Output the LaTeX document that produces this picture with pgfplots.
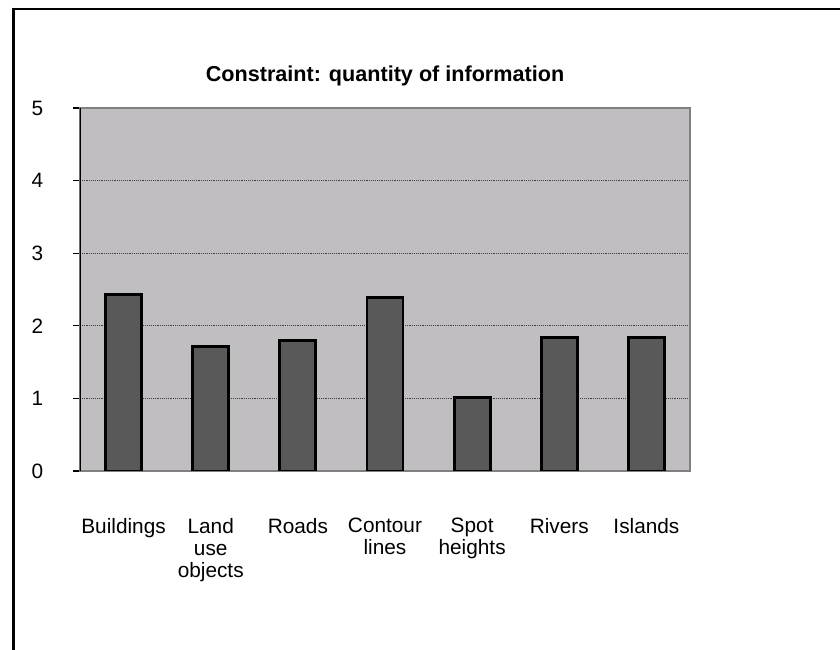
\documentclass[border=0pt]{standalone}
\usepackage{pgfplots}
\pgfplotsset{compat=1.18}
\usepackage{fontspec}
\setmainfont{Liberation Sans}
\definecolor{bg}{RGB}{192,190,192}
\definecolor{barc}{RGB}{89,89,89}
\begin{document}
\begin{tikzpicture}
\useasboundingbox (0,0) rectangle (630pt,487.5pt);
\draw[line width=2.2pt] (9pt,480.75pt) -- (630pt,480.75pt);
\draw[line width=2.2pt] (10.1pt,481.8pt) -- (10.1pt,0pt);
\begin{axis}[
  at={(60pt,134.25pt)}, anchor=south west,
  scale only axis, width=457.5pt, height=272.25pt,
  ybar, bar width=27pt,
  xmin=-0.5, xmax=6.5, ymin=0, ymax=5,
  xtick={0,...,6},
  xticklabels={Buildings,{Land\\use\\objects},Roads,{Contour\\lines},{Spot\\heights},Rivers,Islands},
  ytick={0,...,5},
  ytick pos=left,
  tick align=outside,
  major tick length=5pt,
  major x tick style={draw=none},
  major y tick style={black, line width=0.8pt},
  /pgf/number format/assume math mode=true,
  ticklabel style={font=\fontsize{15.6}{16.5}\selectfont},
  yticklabel style={xshift=-19pt},
  xticklabel style={align=center, anchor=north, yshift=-27pt},
  ymajorgrids,
  major grid style={black!75, densely dotted, line width=0.5pt},
  axis background/.style={fill=bg},
  axis line style={draw=black!50, line width=1.5pt},
  title={\bfseries Constraint: quantity of information},
  title style={font=\fontsize{16.2}{19}\selectfont, at={(0.5,1)}, anchor=base, yshift=13.5pt},
]
\addplot[fill=barc, draw=black, line width=2.2pt] coordinates {(0,2.43) (1,1.72) (2,1.80) (3,2.39) (4,1.01) (5,1.84) (6,1.84)};
\draw[black, line width=1.5pt] (rel axis cs:0,0) -- (rel axis cs:0,1);
\end{axis}
\end{tikzpicture}
\end{document}
